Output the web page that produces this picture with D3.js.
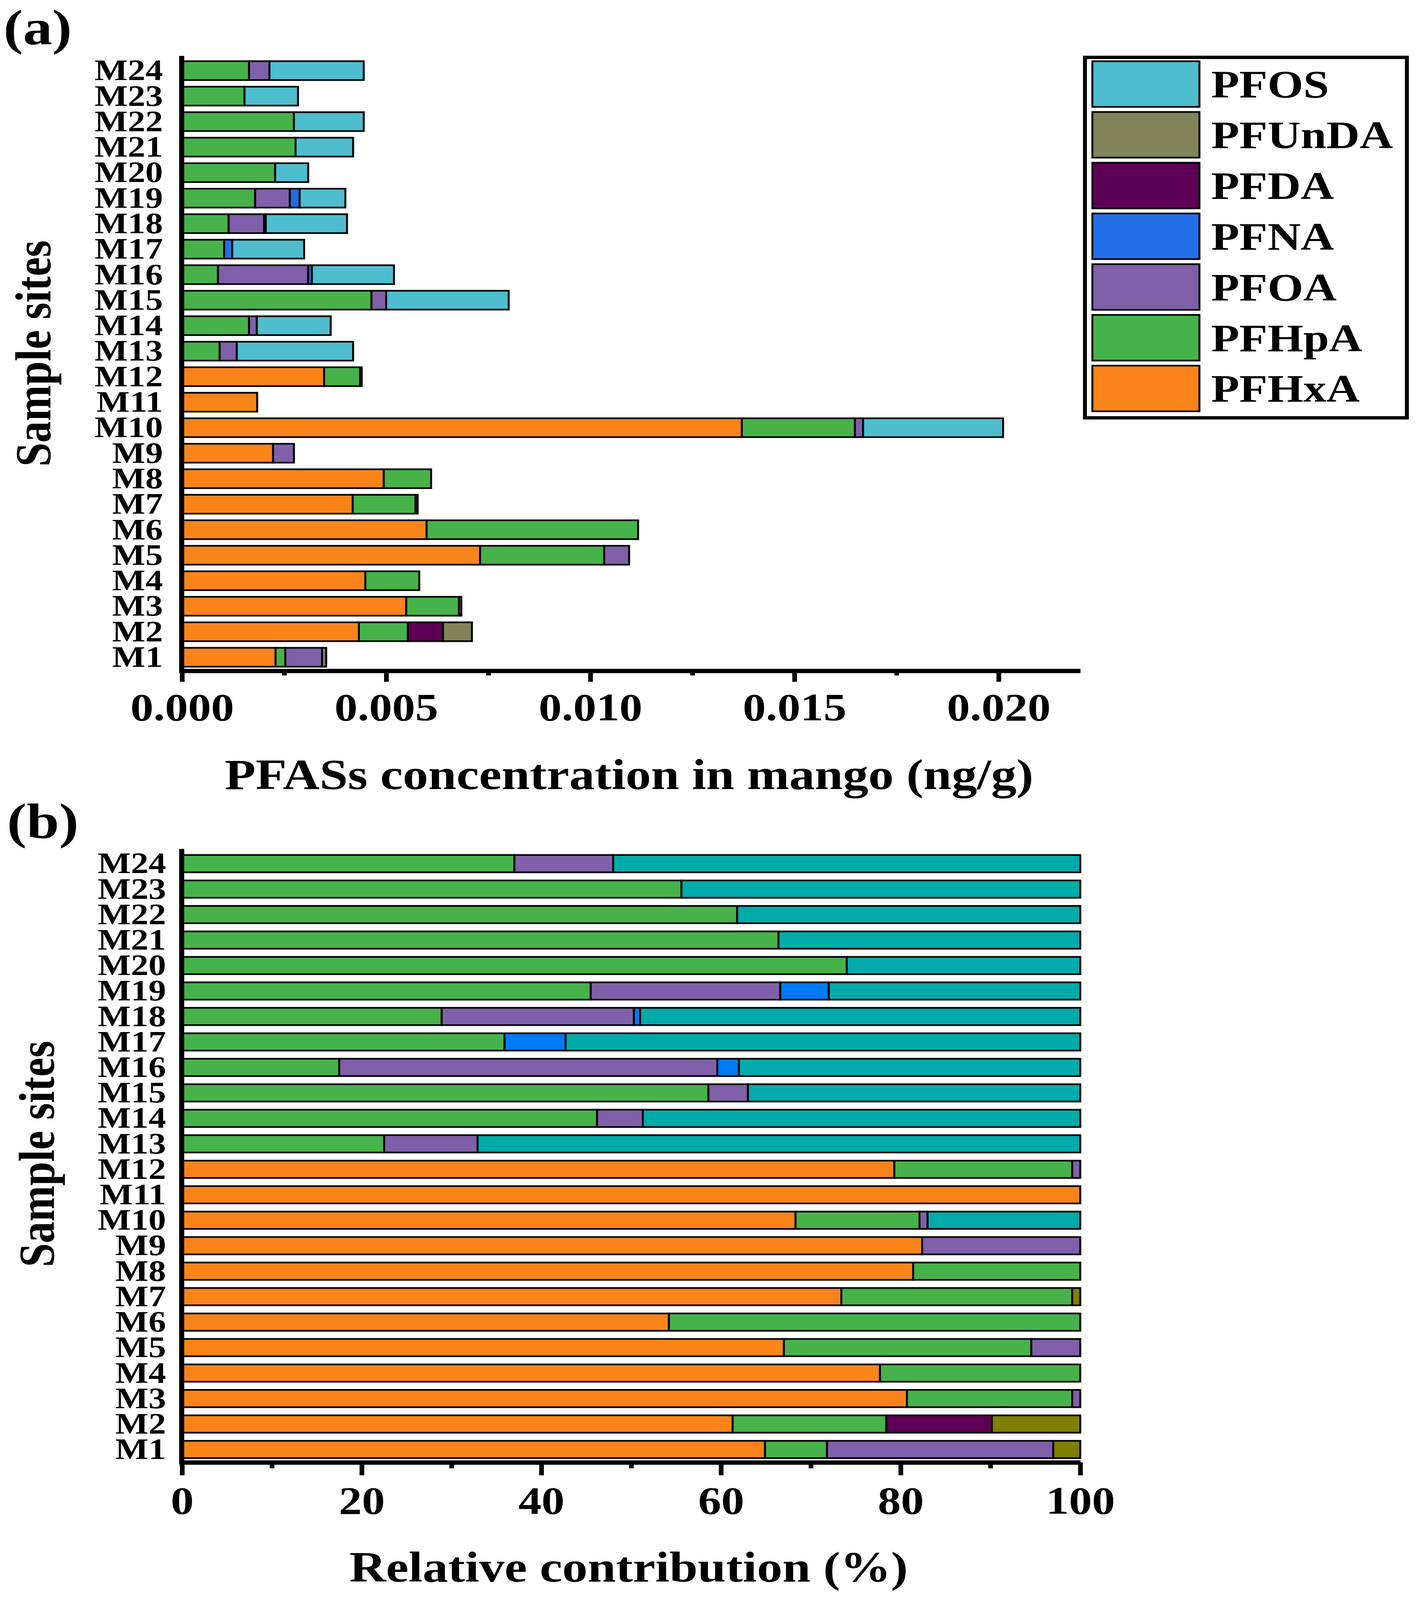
<!DOCTYPE html>
<html>
<head>
<meta charset="utf-8">
<script src="https://cdn.jsdelivr.net/npm/d3@7"></script>
<style>
html,body{margin:0;padding:0;background:#fff;overflow:hidden;}
svg{display:block;}
text{font-family:"Liberation Serif","Times New Roman",serif;font-weight:bold;fill:#000;}
</style>
</head>
<body>
<svg id="chart"></svg>
<script>
// ---------------- DATA ----------------
const sites = ["M1","M2","M3","M4","M5","M6","M7","M8","M9","M10","M11","M12",
               "M13","M14","M15","M16","M17","M18","M19","M20","M21","M22","M23","M24"];
const series = ["PFHxA","PFHpA","PFOA","PFNA","PFDA","PFUnDA","PFOS"];

// (a) concentration in mango, ng/g (M1..M24)
const concPFHxA  = [0.00229,0.00433,0.00549,0.00449,0.00730,0.00599,0.00418,0.00494,0.00223,0.01371,0.00184,0.00348,
                    0,0,0,0,0,0,0,0,0,0,0,0];
const concPFHpA  = [0.00024,0.00120,0.00129,0.00132,0.00304,0.00518,0.00154,0.00116,0,0.00277,0,0.00088,
                    0.00092,0.00164,0.00464,0.00088,0.00103,0.00114,0.00179,0.00228,0.00278,0.00274,0.00153,0.00164];
const concPFOA   = [0.00090,0,0.00006,0,0.00061,0,0,0,0.00051,0.00020,0,0.00004,
                    0.00042,0.00019,0.00036,0.00221,0,0.00087,0.00085,0,0,0,0,0.00050];
const concPFNA   = [0,0,0,0,0,0,0,0,0,0,0,0,
                    0,0,0,0.00009,0.00020,0.00004,0.00024,0,0,0,0,0];
const concPFDA   = [0,0.00086,0,0,0,0,0,0,0,0,0,0,
                    0,0,0,0,0,0,0,0,0,0,0,0];
const concPFUnDA = [0.00010,0.00071,0,0,0,0,0.00005,0,0,0,0,0,
                    0,0,0,0,0,0,0,0,0,0,0,0];
const concPFOS   = [0,0,0,0,0,0,0,0,0,0.00343,0,0,
                    0.00285,0.00181,0.00300,0.00201,0.00176,0.00199,0.00112,0.00081,0.00141,0.00171,0.00131,0.00231];

// (b) relative contribution, % (M1..M24)
const pctPFHxA  = [64.9,61.3,80.7,77.7,67.0,54.2,73.4,81.4,82.4,68.3,100,79.3,
                   0,0,0,0,0,0,0,0,0,0,0,0];
const pctPFHpA  = [6.9,17.1,18.4,22.3,27.55,45.8,25.7,18.6,0,13.8,0,19.8,
                   22.5,46.2,58.6,17.5,35.9,28.9,45.5,74.0,66.4,61.8,55.6,37.0];
const pctPFOA   = [25.2,0,0.9,0,5.45,0,0,0,17.6,0.9,0,0.9,
                   10.4,5.1,4.4,42.1,0,21.4,21.1,0,0,0,0,11.0];
const pctPFNA   = [0,0,0,0,0,0,0,0,0,0,0,0,
                   0,0,0,2.4,6.8,0.7,5.4,0,0,0,0,0];
const pctPFDA   = [0,11.75,0,0,0,0,0,0,0,0,0,0,
                   0,0,0,0,0,0,0,0,0,0,0,0];
const pctPFUnDA = [3.0,9.85,0,0,0,0,0.9,0,0,0,0,0,
                   0,0,0,0,0,0,0,0,0,0,0,0];
const pctPFOS   = [0,0,0,0,0,0,0,0,0,17.0,0,0,
                   67.1,48.7,37.0,38.0,57.3,49.0,28.0,26.0,33.6,38.2,44.4,52.0];

const ticksA = [0,0.005,0.010,0.015,0.020];
const minorA = [0.0025,0.0075,0.0125,0.0175];
const ticksB = [0,20,40,60,80,100];
const minorB = [10,30,50,70,90];

const colorsA = {PFHxA:"#FA8419",PFHpA:"#47B24A",PFOA:"#8060A9",PFNA:"#246EE6",PFDA:"#5E0055",PFUnDA:"#818458",PFOS:"#4EBDCE"};
const colorsB = {PFHxA:"#FA8419",PFHpA:"#47B24A",PFOA:"#8060A9",PFNA:"#007BF5",PFDA:"#5E0055",PFUnDA:"#7F7F00",PFOS:"#00ABAA"};

// ---------------- BUILD TABLES ----------------
const concArr = {PFHxA:concPFHxA,PFHpA:concPFHpA,PFOA:concPFOA,PFNA:concPFNA,PFDA:concPFDA,PFUnDA:concPFUnDA,PFOS:concPFOS};
const pctArr  = {PFHxA:pctPFHxA,PFHpA:pctPFHpA,PFOA:pctPFOA,PFNA:pctPFNA,PFDA:pctPFDA,PFUnDA:pctPFUnDA,PFOS:pctPFOS};
function table(arrs){
  return sites.map((s,i)=>{const o={site:s}; series.forEach(k=>o[k]=arrs[k][i]); return o;});
}

// ---------------- LAYOUT ----------------
// drawn in a 3632x4825 design space, fitted to the actual viewport
const W=3632, H=4825;
const vw = window.innerWidth || document.documentElement.clientWidth || W;
const vh = window.innerHeight || document.documentElement.clientHeight || H;
const xL=466, xR=2765;
const svg = d3.select("#chart").attr("width",vw).attr("height",vh)
  .attr("viewBox",`0 0 ${W} ${H}`).attr("preserveAspectRatio","none");
svg.append("rect").attr("width",W).attr("height",H).attr("fill","#fff");

function drawPanel(cfg){
  const x = d3.scaleLinear().domain(cfg.domain).range([xL,xR]);
  const y = d3.scaleBand().domain(sites).range([cfg.yBot,cfg.yTop])
              .paddingInner(cfg.pad).paddingOuter(cfg.pad/2);
  const stacked = d3.stack().keys(series)(table(cfg.data));
  const g = svg.append("g");

  g.selectAll("g.layer").data(stacked).join("g")
    .attr("fill",d=>cfg.colors[d.key])
    .selectAll("rect").data(d=>d.filter(s=>s[1]-s[0]>0)).join("rect")
      .attr("x",d=>x(d[0]))
      .attr("width",d=>x(d[1])-x(d[0]))
      .attr("y",d=>y(d.data.site))
      .attr("height",y.bandwidth())
      .attr("stroke","#000").attr("stroke-width",5);

  const ya = g.append("g").attr("transform",`translate(${xL-1},0)`)
    .call(d3.axisLeft(y).tickSize(0).tickPadding(cfg.labPad));
  ya.select(".domain").remove();
  ya.selectAll("text").attr("font-size",90).attr("font-family","Liberation Serif").attr("font-weight","bold");

  const xa = g.append("g").attr("transform",`translate(0,${cfg.axisY})`)
    .call(d3.axisBottom(x).tickValues(cfg.ticks).tickSize(cfg.tick).tickPadding(cfg.tickPad)
          .tickSizeOuter(0).tickFormat(cfg.fmt));
  xa.select(".domain").attr("stroke","#000").attr("stroke-width",13);
  xa.selectAll(".tick line").attr("stroke","#000").attr("stroke-width",12);
  xa.selectAll("text").attr("font-size",118).attr("font-family","Liberation Serif").attr("font-weight","bold");
  const xm = g.append("g").attr("transform",`translate(0,${cfg.axisY})`)
    .call(d3.axisBottom(x).tickValues(cfg.minor).tickSize(cfg.minorTick).tickFormat(""));
  xm.select(".domain").remove();
  xm.selectAll(".tick line").attr("stroke","#000").attr("stroke-width",12);

  g.append("line").attr("x1",xL-1).attr("x2",xL-1)
    .attr("y1",cfg.yTop-6).attr("y2",cfg.axisY+6.5)
    .attr("stroke","#000").attr("stroke-width",13);

  g.append("text").attr("x",cfg.xtX).attr("y",cfg.xtY).attr("text-anchor","middle")
    .attr("font-size",130).text(cfg.xTitle);
  g.append("text").attr("transform",`translate(${cfg.ytX},${cfg.ytY}) rotate(-90)`)
    .attr("text-anchor","middle").attr("font-size",130).text("Sample sites");
  g.append("text").attr("x",cfg.lblX).attr("y",cfg.lblY).attr("font-size",150).text(cfg.label);
}

drawPanel({
  data:concArr, colors:colorsA, domain:[0,0.022],
  yTop:174.5, yBot:2020.5, pad:0.26, axisY:2023,
  ticks:ticksA, minor:minorA, tick:33, tickPad:33, minorTick:14, fmt:d3.format(".3f"),
  labPad:48,
  xTitle:"PFASs concentration in mango (ng/g)", xtX:1610, xtY:2379,
  ytX:129, ytY:1066, label:"(a)", lblX:9, lblY:133
});

drawPanel({
  data:pctArr, colors:colorsB, domain:[0,100],
  yTop:2566, yBot:4409.5, pad:0.32, axisY:4410,
  ticks:ticksB, minor:minorB, tick:39, tickPad:32, minorTick:18, fmt:d3.format("d"),
  labPad:40,
  xTitle:"Relative contribution (%)", xtX:1609, xtY:4770,
  ytX:138, ytY:3480, label:"(b)", lblX:18, lblY:2527
});

// ---------------- LEGEND (panel a) ----------------
const leg = svg.append("g");
leg.append("rect").attr("x",2777).attr("y",173).attr("width",824).attr("height",1087)
  .attr("fill","#fff").attr("stroke","#000").attr("stroke-width",10);
const legItems = series.slice().reverse();
const ly = d3.scaleBand().domain(legItems).range([177,1248]).paddingInner(0.1).paddingOuter(0.05);
const li = leg.selectAll("g.item").data(legItems).join("g")
  .attr("transform",d=>`translate(0,${ly(d)})`);
li.append("rect").attr("x",2796).attr("y",0).attr("width",274).attr("height",ly.bandwidth())
  .attr("fill",d=>colorsA[d]).attr("stroke","#000").attr("stroke-width",5);
li.append("text").attr("x",3100).attr("y",ly.bandwidth()/2+40).attr("font-size",118).text(d=>d);
</script>
</body>
</html>
